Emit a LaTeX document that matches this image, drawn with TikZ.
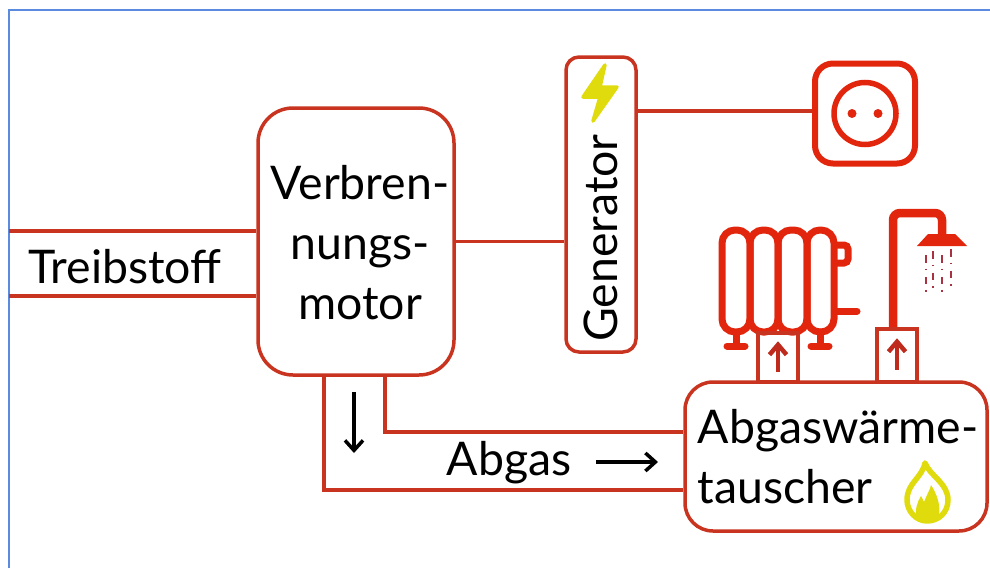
\documentclass[tikz,border=0pt]{standalone}
\usepackage{fontspec}
\setmainfont{Lato}
\usepackage{xcolor}
\usetikzlibrary{arrows.meta,calc,positioning}
\definecolor{boxred}{HTML}{C8341F}
\definecolor{iconred}{HTML}{E2260E}
\definecolor{heatred}{HTML}{BE2A1C}
\definecolor{drop}{HTML}{A83240}
\definecolor{sparkyellow}{HTML}{E0DB0C}
\definecolor{frameblue}{HTML}{5B8BE0}
\tikzset{
    box/.style={draw=boxred, line width=0.035cm, rounded corners=#1, inner sep=0pt},
    box/.default=0.13cm,
    line/.style={draw=boxred, line width=0.035cm},
    icon/.style={draw=iconred, line width=0.07cm},
    heatbox/.style={draw=boxred, line width=0.035cm, minimum width=0.40cm, inner sep=0pt},
    heatarrow/.style={-{Straight Barb[length=0.10cm,width=0.17cm]}, draw=heatred, line width=0.045cm},
    blackarrow/.style={-{Straight Barb[length=0.10cm,width=0.18cm]}, line width=0.035cm},
    txt/.style={font=\fontsize{13.2}{17.1}\selectfont, inner sep=0pt}
}
\begin{document}
\begin{tikzpicture}
    \useasboundingbox (0,0) rectangle (9.9,5.68);
    % Frame
    \draw[frameblue, line width=0.02cm] (0.09,0) -- (0.09,5.58) -- (9.9,5.58);

    % Main boxes
    \node[box=0.35cm, minimum width=1.96cm, minimum height=2.67cm] (motor) at (3.56,3.265) {};
    \node[box, minimum width=0.70cm, minimum height=2.95cm] (generator) at (6.01,3.635) {};
    \node[box=0.28cm, minimum width=3.02cm, minimum height=1.49cm] (tauscher) at (8.36,1.115) {};
    \node[draw=iconred, line width=0.06cm, rounded corners=0.18cm, minimum width=1.0cm, minimum height=1.0cm, inner sep=0pt] (socket) at (8.65,4.545) {};

    % Labels
    \node[txt, align=center] (motortext) at (3.60,3.255) {Verbren-\\nungs-\\motor};
    \node[txt, rotate=90] (generatortext) at (6.01,3.30) {Generator};
    \node[txt, align=left, anchor=west] (tauschertext) at (6.97,1.115) {Abgaswärme-\\tauscher};
    \node[txt, anchor=base] (fueltext) at (1.25,2.85) {Treibstoff};
    \node[txt, anchor=base] (gastext) at (5.09,0.93) {Abgas};

    % Fuel lines
    \coordinate (fuelA) at (0.09,3.37);
    \coordinate (fuelB) at (0.09,2.72);
    \draw[line] (fuelA) -- (fuelA -| motor.west);
    \draw[line] (fuelB) -- (fuelB -| motor.west);

    % Shaft and cable
    \draw[line] (motor.east) -- (motor.east -| generator.west);
    \coordinate (cable) at ($(socket.west)+(0,0.025)$);
    \draw[line] (cable -| generator.east) -- (cable);

    % Exhaust lines
    \coordinate (gasA) at (3.85,1.36);
    \coordinate (gasB) at (3.24,0.78);
    \draw[line] (gasA |- motor.south) -- (gasA) -- (gasA -| tauscher.west);
    \draw[line] (gasB |- motor.south) -- (gasB) -- (gasB -| tauscher.west);

    % Black arrows
    \coordinate (downA) at (3.54,1.76);
    \coordinate (downB) at (3.54,1.15);
    \coordinate (rightA) at (5.96,1.06);
    \coordinate (rightB) at (6.58,1.06);
    \draw[blackarrow] (downA) -- (downB);
    \draw[blackarrow] (rightA) -- (rightB);

    % Socket
    \draw[draw=iconred, line width=0.055cm] (socket.center) circle (0.31);
    \foreach \x in {-0.13, 0.13} {
        \fill[iconred] ($(socket.center)+(\x,0)$) circle (0.045);
    }

    % Lightning
    \fill[sparkyellow, draw=sparkyellow, line width=0.035cm, line join=round]
        (6.05,5.03) -- (5.83,4.71) -- (6.00,4.71) -- (5.93,4.47) -- (6.17,4.81) -- (6.00,4.81) -- cycle;

    % Radiator
    \foreach \x/\w in {7.22/0.28, 7.50/0.28, 7.78/0.29, 8.07/0.27} {
        \draw[icon, rounded corners=0.13cm] (\x,2.36) rectangle ++(\w,1.02);
    }
    \draw[icon, line cap=round] (7.36,2.36) -- (7.36,2.22);
    \draw[icon, line cap=round] (7.27,2.22) -- (7.45,2.22);
    \draw[icon, line cap=round] (8.20,2.36) -- (8.20,2.22);
    \draw[icon, line cap=round] (8.11,2.22) -- (8.29,2.22);
    \draw[icon, rounded corners=0.04cm] (8.37,3.23) -- (8.48,3.23) -- (8.48,3.05) -- (8.37,3.05);
    \draw[icon, line cap=round] (8.37,2.57) -- (8.57,2.57);

    % Shower
    \draw[icon, line width=0.085cm, rounded corners=0.07cm] (8.93,2.40) -- (8.93,3.55) -- (9.42,3.55) -- (9.42,3.30);
    \fill[iconred] (9.17,3.22) -- (9.67,3.22) -- (9.55,3.34) -- (9.28,3.34) -- cycle;
    \foreach \x/\y in {9.26/3.13, 9.33/3.17, 9.42/3.13, 9.51/3.19} {
        \draw[drop, line width=0.018cm] (\x,\y) -- ++(0,-0.075) ++(0,-0.06) -- ++(0,-0.015)
            ++(0,-0.065) -- ++(0,-0.07) ++(0,-0.065) -- ++(0,-0.015);
    }

    % Heat boxes
    \node[heatbox, minimum height=0.49cm] (heatA) at (7.78,2.105) {};
    \node[heatbox, minimum height=0.53cm] (heatB) at (8.97,2.125) {};
    \draw[heatarrow] ($(heatA.south)+(0,0.12)$) -- ($(heatA.north)+(0,-0.10)$);
    \draw[heatarrow] ($(heatB.south)+(0,0.14)$) -- ($(heatB.north)+(0,-0.11)$);

    % Flame
    \draw[sparkyellow, line width=0.055cm, line join=round]
        (9.25,1.05) .. controls (9.30,0.92) and (9.48,0.85) .. (9.48,0.68)
        .. controls (9.48,0.55) and (9.38,0.47) .. (9.27,0.47)
        .. controls (9.16,0.47) and (9.07,0.57) .. (9.07,0.68)
        .. controls (9.07,0.85) and (9.22,0.90) .. cycle;
    \fill[sparkyellow] (9.16,0.50) .. controls (9.15,0.58) and (9.17,0.66) .. (9.21,0.72)
        -- (9.24,0.66) .. controls (9.27,0.74) and (9.30,0.78) .. (9.31,0.83)
        .. controls (9.37,0.74) and (9.42,0.60) .. (9.38,0.50) -- cycle;
\end{tikzpicture}
\end{document}
